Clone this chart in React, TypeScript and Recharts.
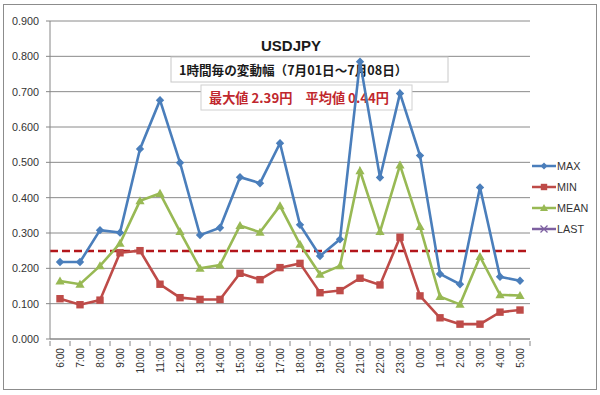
import React from "react";
import { LineChart, Line, XAxis, YAxis, CartesianGrid, ReferenceLine, Customized } from "recharts";

const hours = ["6:00","7:00","8:00","9:00","10:00","11:00","12:00","13:00","14:00","15:00","16:00","17:00","18:00","19:00","20:00","21:00","22:00","23:00","0:00","1:00","2:00","3:00","4:00","5:00"];
const maxValues = [0.218,0.218,0.308,0.301,0.538,0.676,0.499,0.294,0.315,0.458,0.441,0.554,0.323,0.235,0.282,0.785,0.457,0.695,0.519,0.184,0.155,0.429,0.176,0.165];
const minValues = [0.114,0.097,0.110,0.244,0.250,0.155,0.117,0.112,0.112,0.186,0.168,0.202,0.214,0.131,0.137,0.172,0.153,0.288,0.122,0.060,0.042,0.042,0.076,0.082];
const meanValues = [0.164,0.155,0.207,0.271,0.391,0.412,0.304,0.200,0.209,0.321,0.302,0.377,0.268,0.183,0.207,0.476,0.304,0.492,0.318,0.120,0.098,0.233,0.125,0.123];
const lastValues: (number | null)[] = hours.map(() => null);
const yTicks = [0, 0.1, 0.2, 0.3, 0.4, 0.5, 0.6, 0.7, 0.8, 0.9];
const averageLine = 0.249;
const titleText = "USDJPY";
const subtitleText = "1時間毎の変動幅（7月01日～7月08日）";
const statsText = "最大値 2.39円　平均値 0.44円";

const data = hours.map((h, i) => ({
  hour: h,
  MAX: maxValues[i],
  MIN: minValues[i],
  MEAN: meanValues[i],
  LAST: lastValues[i],
}));

const COLORS = { MAX: "#4A7EBB", MIN: "#BE4B48", MEAN: "#98B954", LAST: "#7D60A0" };
const FONT = "'Liberation Sans', Arial, sans-serif";
const JP = "'Noto Sans CJK JP', sans-serif";

const Diamond = (props: any) => {
  const { cx, cy, fill } = props;
  if (cx == null || cy == null || props.value == null) return null;
  const r = 4.2;
  return <path d={`M${cx},${cy - r}L${cx + r},${cy}L${cx},${cy + r}L${cx - r},${cy}Z`} fill={fill} />;
};
const Square = (props: any) => {
  const { cx, cy, fill } = props;
  if (cx == null || cy == null || props.value == null) return null;
  const r = 3.7;
  return <rect x={cx - r} y={cy - r} width={2 * r} height={2 * r} fill={fill} />;
};
const Triangle = (props: any) => {
  const { cx, cy, fill } = props;
  if (cx == null || cy == null || props.value == null) return null;
  const r = 4.6;
  return <path d={`M${cx},${cy - r}L${cx + r},${cy + r * 0.75}L${cx - r},${cy + r * 0.75}Z`} fill={fill} />;
};

const XTick = (props: any) => {
  const { x, y, payload, index } = props;
  const half = 10;
  return (
    <g>
      <line x1={x - half} y1={y - 6} x2={x - half} y2={y - 1} stroke="#868686" />
      {index === hours.length - 1 && <line x1={x + half} y1={y - 6} x2={x + half} y2={y - 1} stroke="#868686" />}
      <g transform={`translate(${x},${y})`}>
        <text transform="rotate(-90)" x={-1} y={0} dy={3.5} textAnchor="end" fontSize={10.2} fontFamily={FONT} fill="#333333">
          {payload.value}
        </text>
      </g>
    </g>
  );
};

const Boxes = () => (
  <g>
    <text x={291} y={51} textAnchor="middle" fontSize={15} fontWeight="bold" fontFamily={FONT} fill="#1a1a1a">{titleText}</text>
    <rect x={171} y={57} width={277} height={25} fill="#ffffff" stroke="#c8c8c8" />
    <text x={179} y={74.5} fontSize={12.6} fontWeight="bold" fontFamily={JP} fill="#1a1a1a">{subtitleText}</text>
    <rect x={201} y={85} width={211} height={25} fill="#ffffff" stroke="#d0d0d0" />
    <text x={209} y={103} fontSize={13.2} fontWeight="bold" fontFamily={JP} fill="#C0272D">{statsText}</text>
  </g>
);

const legendItems = [
  { key: "MAX", marker: "diamond" },
  { key: "MIN", marker: "square" },
  { key: "MEAN", marker: "triangle" },
  { key: "LAST", marker: "x" },
];

const LegendLayer = () => (
  <g transform="translate(530,157)">
    {legendItems.map((it, i) => {
      const cy = 9 + i * 21;
      const color = (COLORS as any)[it.key];
      const cx = 14;
      let m: React.ReactNode = null;
      if (it.marker === "diamond") m = <path d={`M${cx},${cy - 3.5}L${cx + 3.5},${cy}L${cx},${cy + 3.5}L${cx - 3.5},${cy}Z`} fill={color} />;
      if (it.marker === "square") m = <rect x={cx - 3.2} y={cy - 3.2} width={6.4} height={6.4} fill={color} />;
      if (it.marker === "triangle") m = <path d={`M${cx},${cy - 4}L${cx + 4},${cy + 3}L${cx - 4},${cy + 3}Z`} fill={color} />;
      if (it.marker === "x") m = (
        <g stroke={color} strokeWidth={1.2}>
          <line x1={cx - 3.5} y1={cy - 3.5} x2={cx + 3.5} y2={cy + 3.5} />
          <line x1={cx - 3.5} y1={cy + 3.5} x2={cx + 3.5} y2={cy - 3.5} />
        </g>
      );
      return (
        <g key={it.key}>
          <line x1={2} y1={cy} x2={26} y2={cy} stroke={color} strokeWidth={2.5} />
          {m}
          <text x={27} y={cy + 4} fontSize={10.8} fontFamily={FONT} fill="#333333">{it.key}</text>
        </g>
      );
    })}
  </g>
);

export default function App() {
  return (
    <div style={{ position: "absolute", left: 0, top: 0, width: 600, height: 395, background: "#ffffff" }}>
      <div style={{ position: "absolute", left: 3, top: 4, width: 594, height: 386, border: "1px solid #8c8c8c", boxSizing: "border-box" }} />
      <div style={{ position: "absolute", left: 0, top: 0 }}>
        <LineChart width={600} height={395} data={data} margin={{ top: 21, right: 70, left: 0, bottom: 0 }}>
          <CartesianGrid horizontal vertical={false} stroke="#8a8a8a" strokeWidth={1} />
          <Customized component={Boxes} />
          <Customized component={LegendLayer} />
          <XAxis
            dataKey="hour"
            height={56}
            interval={0}
            padding={{ left: 10, right: 10 }}
            tickLine={false}
            axisLine={{ stroke: "#868686" }}
            tick={<XTick />}
          />
          <YAxis
            width={50}
            domain={[0, 0.9]}
            ticks={yTicks}
            interval={0}
            tickFormatter={(v: number) => v.toFixed(3)}
            tick={{ fontSize: 10.8, fill: "#333333", fontFamily: FONT, dx: -5 }}
            tickSize={4}
            tickLine={{ stroke: "#868686" }}
            axisLine={{ stroke: "#868686" }}
          />
          <ReferenceLine y={averageLine} stroke="#B3161B" strokeWidth={2.5} strokeDasharray="8 4" />
          <Line dataKey="MAX" stroke={COLORS.MAX} strokeWidth={2.6} dot={<Diamond fill={COLORS.MAX} />} isAnimationActive={false} />
          <Line dataKey="MIN" stroke={COLORS.MIN} strokeWidth={2.6} dot={<Square fill={COLORS.MIN} />} isAnimationActive={false} />
          <Line dataKey="MEAN" stroke={COLORS.MEAN} strokeWidth={2.6} dot={<Triangle fill={COLORS.MEAN} />} isAnimationActive={false} />
          <Line dataKey="LAST" stroke={COLORS.LAST} strokeWidth={2.6} dot={false} isAnimationActive={false} />
        </LineChart>
      </div>
    </div>
  );
}
